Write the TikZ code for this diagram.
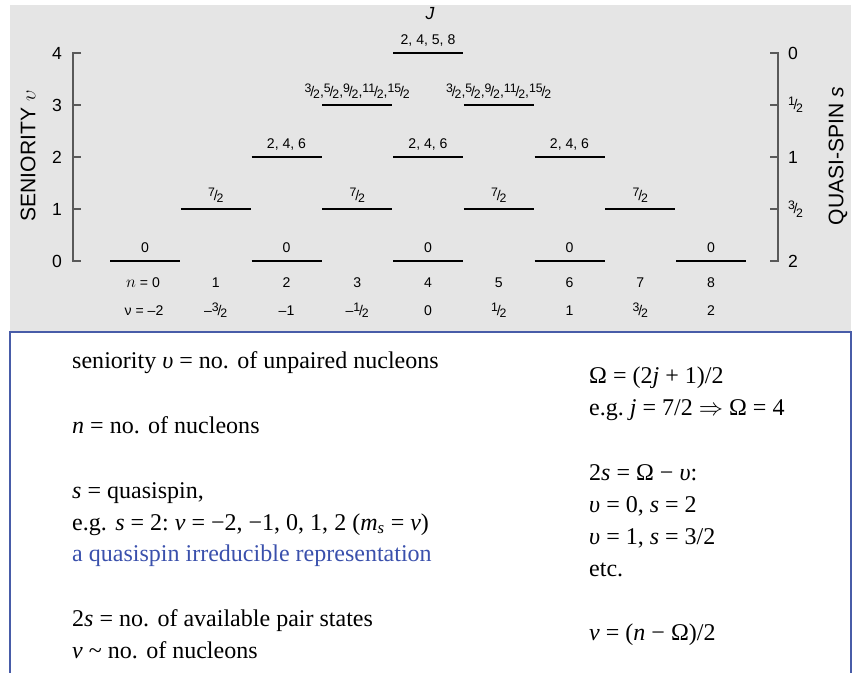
\documentclass[tikz,border=0pt]{standalone}
\usepackage{fontspec}
\setmainfont{Liberation Serif}
\newfontfamily\panelfont{Liberation Sans}
\definecolor{panelgray}{RGB}{229,229,229}
\definecolor{boxblue}{RGB}{72,92,168}
\definecolor{repblue}{RGB}{58,80,172}
% small split fraction as used in the level scheme
\newcommand{\hf}[2]{\raisebox{0.45ex}{\fontsize{10.5}{11}\selectfont#1}\kern-0.08em{\fontsize{12}{12}\selectfont/}\kern-0.08em\raisebox{-0.35ex}{\fontsize{10.5}{11}\selectfont#2}}
\begin{document}
\begin{tikzpicture}[x=0.03cm, y=-0.03cm,
  level/.style={line width=1.1pt},
  lvlabel/.style={font=\panelfont\fontsize{12}{14}\selectfont, inner sep=0pt, anchor=base},
  ticklabel/.style={font=\panelfont\fontsize{15}{17}\selectfont, inner sep=0pt},
  axistitle/.style={font=\panelfont\fontsize{18}{20}\selectfont, rotate=90, inner sep=0pt},
  axisline/.style={line width=0.9pt, black!65},
  notes/.style={font=\fontsize{20.5}{24}\selectfont, inner sep=0pt, anchor=base west}]
  \useasboundingbox (0,0) rectangle (855,673);

  % Grey panel with the level scheme
  \fill[panelgray] (10,5) rectangle (851,332);

  % Blue framed box with the notes
  \draw[boxblue, line width=1pt] (10,680) -- (10,332) -- (851,332) -- (851,680);

  % Levels: column n, seniority v, label J
  \foreach \n/\v/\lab in {0/0/0, 2/0/0, 4/0/0, 6/0/0, 8/0/0,
      1/1/{\hf{7}{2}}, 3/1/{\hf{7}{2}}, 5/1/{\hf{7}{2}}, 7/1/{\hf{7}{2}},
      2/2/{2, 4, 6}, 4/2/{2, 4, 6}, 6/2/{2, 4, 6},
      3/3/{\hf{3}{2},\hf{5}{2},\hf{9}{2},\hf{11}{2},\hf{15}{2}},
      5/3/{\hf{3}{2},\hf{5}{2},\hf{9}{2},\hf{11}{2},\hf{15}{2}},
      4/4/{2, 4, 5, 8}} {
    \coordinate (L\n-\v-w) at ({145+70.75*\n-35},{261-52*\v});
    \coordinate (L\n-\v-e) at ({145+70.75*\n+35},{261-52*\v});
    \draw[level] (L\n-\v-w) -- (L\n-\v-e);
    \node[lvlabel] (J\n-\v) at ({145+70.75*\n},{252-52*\v}) {\lab};
  }
  \node[lvlabel, font=\panelfont\fontsize{15}{17}\selectfont] (Jtitle) at (430,19) {\itshape J};

  % Left axis: seniority
  \coordinate (sen-top) at (73,53);
  \coordinate (sen-bot) at (73,261);
  \draw[axisline] (81,53) -- (sen-top) -- (sen-bot) -- (81,261);
  \foreach \v in {1,2,3} {
    \draw[axisline] (73,{261-52*\v}) -- (81,{261-52*\v});
  }
  \foreach \v in {0,...,4} {
    \node[ticklabel] (sen\v) at (57,{261-52*\v}) {\v};
  }
  \node[axistitle] (sentitle) at (28,156) {SENIORITY $\upsilon$};

  % Right axis: quasi-spin
  \coordinate (qs-top) at (778,53);
  \coordinate (qs-bot) at (778,261);
  \draw[axisline] (770,53) -- (qs-top) -- (qs-bot) -- (770,261);
  \foreach \v in {1,2,3} {
    \draw[axisline] (770,{261-52*\v}) -- (778,{261-52*\v});
  }
  \foreach \v/\s in {4/0, 3/{\hf{1}{2}}, 2/1, 1/{\hf{3}{2}}, 0/2} {
    \node[ticklabel, anchor=west] (qs\v) at (788,{261-52*\v}) {\s};
  }
  \node[axistitle] (qstitle) at (838,156) {QUASI-SPIN \textit{s}};

  % Rows for n and nu
  \foreach \n/\nu in {1/{\textendash\hf{3}{2}}, 2/{\textendash1}, 3/{\textendash\hf{1}{2}}, 4/0,
      5/{\hf{1}{2}}, 6/1, 7/{\hf{3}{2}}, 8/2} {
    \node[lvlabel] (n\n) at ({145+70.75*\n},287) {\n};
    \node[lvlabel] (nu\n) at ({145+70.75*\n},315) {\nu};
  }
  \node[lvlabel] (n0) at (143,287) {\fontsize{14}{14}\selectfont$n$\fontsize{12}{14}\selectfont{} = 0};
  \node[lvlabel] (nu0) at (144,315) {ν = \textendash2};

  % Notes, left column
  \node[notes] (t1) at (72,368) {seniority \textit{υ} = no.\hspace{0.35em}of unpaired nucleons};
  \node[notes] (t2) at (72,433) {\textit{n} = no.\hspace{0.35em}of nucleons};
  \node[notes] (t3) at (72,498) {\textit{s} = quasispin,};
  \node[notes] (t4) at (72,530) {e.g.\hspace{0.35em}\textit{s} = 2:\ \textit{ν} = −2, −1, 0, 1, 2 (\textit{m}\textsubscript{\textit{s}} = \textit{ν})};
  \node[notes, text=repblue] (t5) at (72,561) {a quasispin irreducible representation};
  \node[notes] (t6) at (72,626) {2\textit{s} = no.\hspace{0.35em}of available pair states};
  \node[notes] (t7) at (72,658) {\textit{ν} \textasciitilde{} no.\hspace{0.35em}of nucleons};

  % Notes, right column
  \node[notes] (r1) at (589,383) {Ω = (2\textit{j} + 1)/2};
  \node[notes] (r2) at (589,415) {e.g.\ \textit{j} = 7/2 $\Rightarrow$ Ω = 4};
  \node[notes] (r3) at (589,480) {2\textit{s} = Ω − \textit{υ}:};
  \node[notes] (r4) at (589,512) {\textit{υ} = 0, \textit{s} = 2};
  \node[notes] (r5) at (589,544) {\textit{υ} = 1, \textit{s} = 3/2};
  \node[notes] (r6) at (589,576) {etc.};
  \node[notes] (r7) at (589,640) {\textit{ν} = (\textit{n} − Ω)/2};
\end{tikzpicture}
\end{document}
